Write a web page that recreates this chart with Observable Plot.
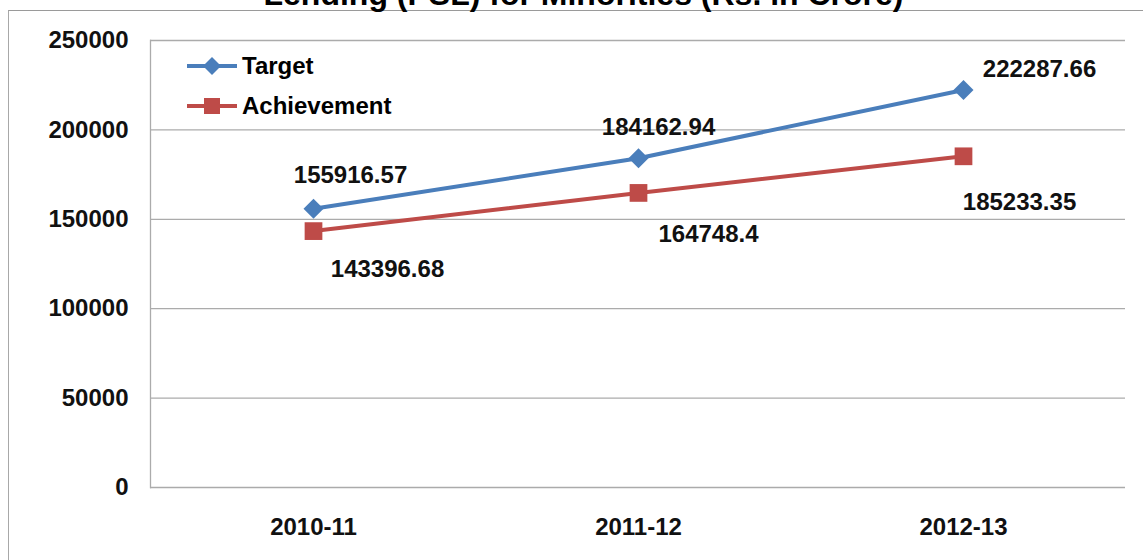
<!DOCTYPE html>
<html>
<head>
<meta charset="utf-8">
<script src="https://cdn.jsdelivr.net/npm/d3@7"></script>
<script src="https://cdn.jsdelivr.net/npm/@observablehq/plot@0.6"></script>
<style>
  html, body { margin: 0; padding: 0; background: #fff; overflow: hidden; }
  #wrap { position: relative; width: 1143px; height: 560px; overflow: hidden; font-family: "Liberation Sans", Arial, sans-serif; }
  #box { position: absolute; left: 8px; top: 10px; width: 1200px; height: 600px; border-top: 1px solid #9a9a9a; border-left: 1px solid #a8a8a8; }
  #title { position: absolute; top: -22px; left: 12px; width: 1143px; text-align: center; font: bold 32px/32px "Liberation Sans", Arial, sans-serif; color: #000; white-space: nowrap; }
  #chart { position: absolute; left: 0; top: 0; }
  #legend { position: absolute; left: 185px; top: 46px; font: bold 24px "Liberation Sans", Arial, sans-serif; color: #000; }
  .row { display: flex; align-items: center; height: 40px; }
  .row svg { margin-right: 3px; }
</style>
</head>
<body>
<div id="wrap">
  <div id="box"></div>
  <div id="title">Lending (PSL) for Minorities (Rs. in Crore)</div>
  <div id="chart"></div>
  <div id="legend"></div>
</div>
<script>
const categories = ["2010-11", "2011-12", "2012-13"];
const target = [155916.57, 184162.94, 222287.66];
const achievement = [143396.68, 164748.4, 185233.35];
const yTicks = [0, 50000, 100000, 150000, 200000, 250000];
const seriesNames = ["Target", "Achievement"];
const colors = ["#4a7ebb", "#be4b48"];

const rows = categories.flatMap((c, i) => [
  {cat: c, series: "Target", value: target[i], i},
  {cat: c, series: "Achievement", value: achievement[i], i}
]);
const tRows = rows.filter(d => d.series === "Target");
const aRows = rows.filter(d => d.series === "Achievement");

// label placement (Excel-style offsets from the point)
const tOff = [[37, -33], [20, -31], [76, -21]];
const aOff = [[74, 38], [70, 41], [56, 46]];

const labelMarks = [
  ...tRows.map(d => Plot.text([d], {x: "cat", y: "value", text: d => String(d.value), dx: tOff[d.i][0], dy: tOff[d.i][1], fontSize: 24, fontWeight: "bold", fill: "#111"})),
  ...aRows.map(d => Plot.text([d], {x: "cat", y: "value", text: d => String(d.value), dx: aOff[d.i][0], dy: aOff[d.i][1], fontSize: 24, fontWeight: "bold", fill: "#111"}))
];

const chart = Plot.plot({
  width: 1143,
  height: 560,
  marginTop: 40,
  marginBottom: 73,
  marginLeft: 150,
  marginRight: 18,
  style: {fontFamily: "'Liberation Sans', Arial, sans-serif", fontSize: "24px", fontWeight: "bold", color: "#111", background: "transparent"},
  x: {type: "point", domain: categories, padding: 0.5, label: null},
  y: {domain: [0, 250000], label: null},
  marks: [
    Plot.gridY(yTicks, {stroke: "#ababab", strokeOpacity: 1, strokeWidth: 1.3}),
    Plot.frame({anchor: "left", stroke: "#ababab", strokeWidth: 1.3}),
    Plot.axisY(yTicks, {tickSize: 0, tickPadding: 22, tickFormat: d3.format("d"), fontSize: 24, fontWeight: "bold", label: null}),
    Plot.axisX({tickSize: 0, tickPadding: 30, fontSize: 24, fontWeight: "bold", label: null}),
    Plot.line(tRows, {x: "cat", y: "value", stroke: colors[0], strokeWidth: 4}),
    Plot.line(aRows, {x: "cat", y: "value", stroke: colors[1], strokeWidth: 4}),
    Plot.dot(tRows, {x: "cat", y: "value", symbol: "diamond2", fill: colors[0], stroke: "none", r: 9}),
    Plot.dot(aRows, {x: "cat", y: "value", symbol: "square", fill: colors[1], stroke: "none", r: 10}),
    ...labelMarks
  ]
});
document.getElementById("chart").appendChild(chart);

// legend
const legend = d3.select("#legend");
seriesNames.forEach((name, k) => {
  const row = legend.append("div").attr("class", "row");
  const s = row.append("svg").attr("width", 54).attr("height", 24);
  s.append("line").attr("x1", 2).attr("x2", 52).attr("y1", 12).attr("y2", 12).attr("stroke", colors[k]).attr("stroke-width", 4);
  if (k === 0) s.append("path").attr("d", "M27,3L36,12L27,21L18,12Z").attr("fill", colors[k]);
  else s.append("rect").attr("x", 19).attr("y", 4).attr("width", 16).attr("height", 16).attr("fill", colors[k]);
  row.append("span").text(name);
});
</script>
</body>
</html>
